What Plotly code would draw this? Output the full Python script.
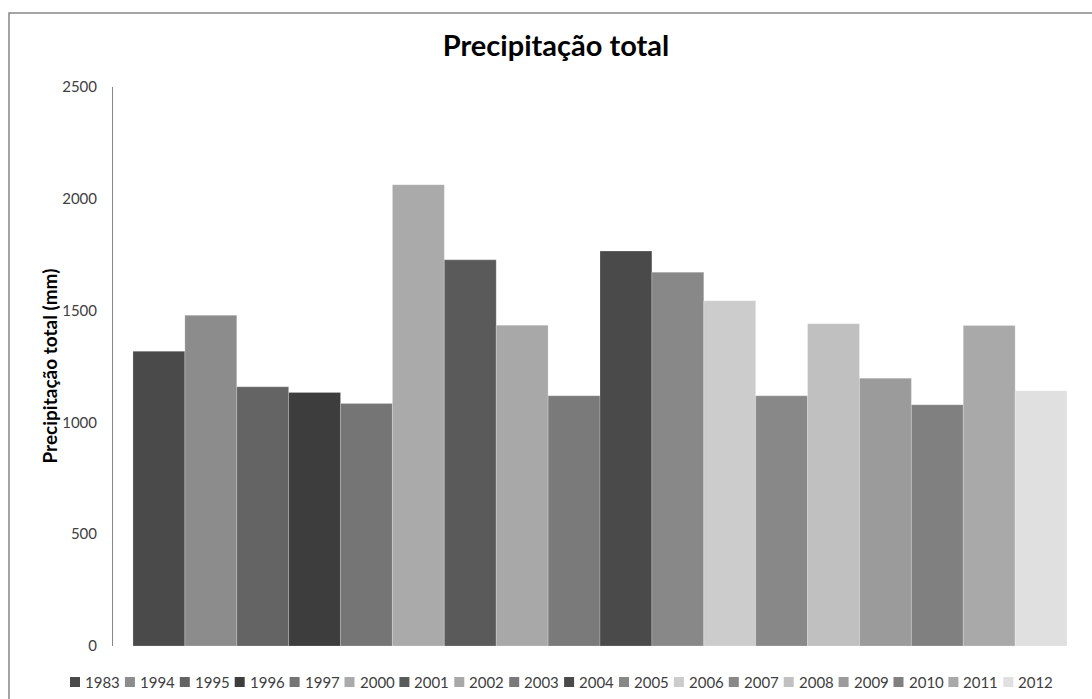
import plotly.graph_objects as go

# Annual total precipitation (mm)
years = ["1983", "1994", "1995", "1996", "1997", "2000", "2001", "2002", "2003",
         "2004", "2005", "2006", "2007", "2008", "2009", "2010", "2011", "2012"]
precip = [1318, 1479, 1159, 1134, 1085, 2063, 1727, 1435, 1119,
          1766, 1672, 1544, 1119, 1441, 1198, 1079, 1433, 1141]
bar_colors = ["#4a4a4a", "#8c8c8c", "#646464", "#3d3d3d", "#757575", "#aaaaaa",
              "#5a5a5a", "#a8a8a8", "#7a7a7a", "#4a4a4a", "#888888", "#cccccc",
              "#888888", "#c0c0c0", "#9b9b9b", "#808080", "#a9a9a9", "#e0e0e0"]
y_ticks = [0, 500, 1000, 1500, 2000, 2500]

W, H = 1092, 699
M_L, M_R, M_T, M_B = 113, 5, 87, 53
PW, PH = W - M_L - M_R, H - M_T - M_B
FONT = "Lato, 'Open Sans', sans-serif"


def px_x(p):
    return (p - M_L) / PW


def px_y(p):
    return (H - M_B - p) / PH


fig = go.Figure()
for yr, val, col in zip(years, precip, bar_colors):
    fig.add_trace(go.Bar(
        x=["Precipitação total"], y=[val], name=yr,
        marker=dict(color=col, line=dict(width=0.6, color="rgba(255,255,255,0.35)")),
    ))

# Legend row drawn as colour swatches with labels
shapes = []
annotations = []
leg_x0, leg_pitch, leg_y = 70, 54.9, 682
for i, (yr, col) in enumerate(zip(years, bar_colors)):
    x = leg_x0 + i * leg_pitch
    shapes.append(dict(type="rect", xref="paper", yref="paper",
                       x0=px_x(x), x1=px_x(x + 10), y0=px_y(leg_y + 5), y1=px_y(leg_y - 5),
                       fillcolor=col, line=dict(width=0)))
    annotations.append(dict(text=yr, xref="paper", yref="paper", x=px_x(x + 13), y=px_y(leg_y),
                            xanchor="left", yanchor="middle", showarrow=False,
                            font=dict(family=FONT, size=15, color="#404040")))

# Chart-area border
shapes.append(dict(type="rect", xref="paper", yref="paper", layer="above",
                   x0=px_x(9), x1=px_x(1104), y0=px_y(706), y1=px_y(13),
                   line=dict(color="#878787", width=1.5), fillcolor="rgba(0,0,0,0)"))

# Y axis title
annotations.append(dict(text="<b>Precipitação total (mm)</b>", xref="paper", yref="paper",
                        x=px_x(49), y=0.5, textangle=-90, showarrow=False,
                        xanchor="center", yanchor="middle",
                        font=dict(family=FONT, size=19, color="#000000")))

fig.update_layout(
    width=W, height=H,
    margin=dict(l=M_L, r=M_R, t=M_T, b=M_B, autoexpand=False),
    paper_bgcolor="white", plot_bgcolor="white",
    barmode="group", bargap=0.041, bargroupgap=0,
    showlegend=False,
    title=dict(text="<b>Precipitação total</b>", x=556 / W, xref="container", xanchor="center",
               y=1 - 46 / H, yref="container", yanchor="middle",
               font=dict(family=FONT, size=29, color="#000000")),
    xaxis=dict(showticklabels=False, showline=False, showgrid=False, ticks="", zeroline=False),
    yaxis=dict(range=[0, 2500], tickvals=y_ticks, showgrid=False, zeroline=False,
               showline=True, linecolor="#878787", linewidth=1, ticks="",
               ticklabelstandoff=12,
               tickfont=dict(family=FONT, size=15, color="#404040")),
    shapes=shapes, annotations=annotations,
)

fig.write_html("out.html")
